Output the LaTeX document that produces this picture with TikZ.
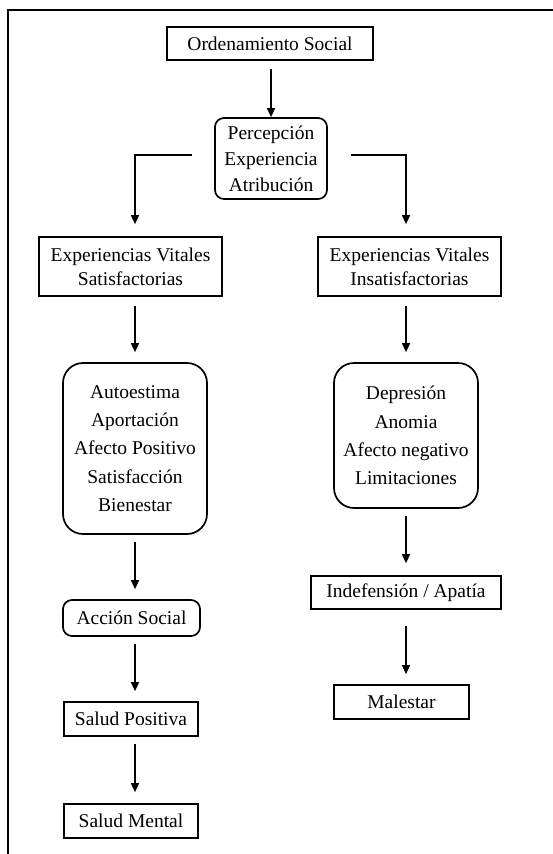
\documentclass[tikz,border=0pt]{standalone}
\usepackage{fontspec}
\setmainfont{Liberation Serif}
\usetikzlibrary{arrows.meta}

\begin{document}
\begin{tikzpicture}[x=1pt,y=-1pt,>={Triangle[length=9pt,width=8pt]},
	box/.style={draw,line width=1.7pt,inner sep=0pt,align=center,font=\fontsize{19.5}{24}\selectfont},
	roundbox/.style={box,rounded corners=9pt},
	link/.style={->,line width=1.4pt}]
	
	\useasboundingbox (0,0) rectangle (553,854);
	\draw[line width=1.8pt] (8,854) -- (8,10) -- (553,10);
	
	\node[box,minimum width=206pt,minimum height=33pt] (orden) at (270,43.5) {Ordenamiento Social};
	
	\node[roundbox,minimum width=112pt,minimum height=81pt,font=\fontsize{19.5}{26}\selectfont] (percep) at (271,158.5) {Percepción\\Experiencia\\Atribución};
	
	\node[box,minimum width=183pt,minimum height=59pt] (satis) at (130.5,266.5) {Experiencias Vitales\\Satisfactorias};
	
	\node[box,minimum width=183pt,minimum height=59pt] (insat) at (409.5,266.5) {Experiencias Vitales\\Insatisfactorias};
	
	\node[roundbox,rounded corners=20pt,minimum width=144pt,minimum height=171pt,font=\fontsize{19.5}{28.3}\selectfont] (posit) at (135,448.5) {Autoestima\\Aportación\\Afecto Positivo\\Satisfacción\\Bienestar};
	
	\node[roundbox,rounded corners=20pt,minimum width=144pt,minimum height=145pt,font=\fontsize{19.5}{28.3}\selectfont] (negat) at (406,435.5) {Depresión\\Anomia\\Afecto negativo\\Limitaciones};
	
	\node[roundbox,minimum width=137pt,minimum height=36pt] (accion) at (131.5,618) {Acción Social};
	
	\node[box,minimum width=134pt,minimum height=34pt] (saludp) at (131,719) {Salud Positiva};
	
	\node[box,minimum width=134pt,minimum height=34pt] (saludm) at (131,821) {Salud Mental};
	
	\node[box,minimum width=190pt,minimum height=33pt] (indef) at (406,592.5) {Indefensión / Apatía};
	
	\node[box,minimum width=135pt,minimum height=34pt] (males) at (401.5,702) {Malestar};
	
	\draw[link,shorten <=8pt] (orden.south -| percep.north) -- (percep.north);
	\draw[link,shorten <=22pt,shorten >=12pt] ([yshift=3.5pt]percep.west) -| (posit.north |- satis.north);
	\draw[link,shorten <=23pt,shorten >=12pt] ([yshift=3.5pt]percep.east) -| (negat.north |- insat.north);
	\draw[link,shorten <=9pt,shorten >=10pt] (posit.north |- satis.south) -- (posit.north);
	\draw[link,shorten <=9pt,shorten >=10pt] (negat.north |- insat.south) -- (negat.north);
	\draw[link,shorten <=7pt,shorten >=10pt] (posit.south) -- (posit.south |- accion.north);
	\draw[link,shorten <=7pt,shorten >=10pt] (posit.south |- accion.south) -- (posit.south |- saludp.north);
	\draw[link,shorten <=7pt,shorten >=11pt] (posit.south |- saludp.south) -- (posit.south |- saludm.north);
	\draw[link,shorten <=7pt,shorten >=12pt] (negat.south) -- (indef.north);
	\draw[link,shorten <=16pt,shorten >=10pt] (indef.south) -- (indef.south |- males.north);
	
\end{tikzpicture}
\end{document}
